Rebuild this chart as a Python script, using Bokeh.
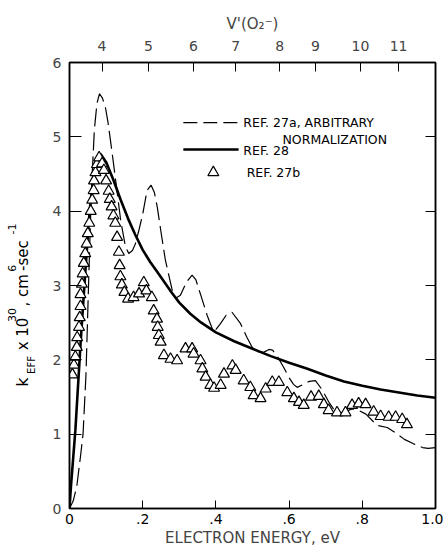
import math
from bokeh.plotting import figure
from bokeh.layouts import row
from bokeh.models import LinearAxis, FixedTicker, Range1d
from bokeh.core.properties import value
from bokeh.embed import file_html
from bokeh.resources import INLINE

# ---------------- data ----------------
# REF. 27a (dashed, arbitrary normalization)
ref27a_energy = [0.0, 0.01, 0.02, 0.03, 0.037, 0.045, 0.052, 0.06, 0.068, 0.075, 0.082,
                 0.09, 0.098, 0.105, 0.112, 0.12, 0.127, 0.14, 0.153, 0.162, 0.172, 0.18,
                 0.19, 0.20, 0.212, 0.223, 0.232, 0.24, 0.25, 0.262, 0.281, 0.29, 0.303,
                 0.32, 0.335, 0.345, 0.36, 0.376, 0.394, 0.413, 0.428, 0.444, 0.467, 0.485,
                 0.499, 0.515, 0.53, 0.545, 0.555, 0.57, 0.585, 0.60, 0.612, 0.622, 0.64,
                 0.655, 0.672, 0.69, 0.71, 0.731, 0.75, 0.773, 0.79, 0.81, 0.84, 0.868,
                 0.89, 0.915, 0.94, 0.965, 0.98, 1.0]
ref27a_k = [0.0, 0.1, 0.3, 0.7, 1.0, 1.8, 3.0, 4.3, 5.1, 5.45, 5.58,
            5.52, 5.4, 5.2, 4.95, 4.65, 4.38, 3.87, 3.52, 3.43, 3.47, 3.56,
            3.75, 3.96, 4.28, 4.35, 4.25, 4.05, 3.72, 3.34, 2.93, 2.83, 2.87,
            3.05, 3.14, 3.08, 2.85, 2.6, 2.37, 2.49, 2.6, 2.64, 2.49, 2.3,
            2.17, 2.11, 2.10, 2.14, 2.13, 2.03, 1.9, 1.76, 1.67, 1.63, 1.67,
            1.71, 1.72, 1.6, 1.42, 1.27, 1.30, 1.34, 1.32, 1.27, 1.12, 1.09,
            1.02, 0.93, 0.87, 0.82, 0.81, 0.82]

# REF. 28 (solid)
ref28_energy = [0.0, 0.004, 0.016, 0.03, 0.042, 0.055, 0.065, 0.075, 0.085, 0.10,
                0.12, 0.14, 0.16, 0.18, 0.20, 0.22, 0.24, 0.26, 0.28, 0.30, 0.33,
                0.36, 0.40, 0.45, 0.50, 0.55, 0.60, 0.65, 0.70, 0.75, 0.80, 0.85,
                0.90, 0.95, 1.0]
ref28_k = [0.0, 0.3, 1.05, 2.2, 3.1, 4.0, 4.45, 4.68, 4.77, 4.66,
           4.42, 4.15, 3.90, 3.68, 3.48, 3.32, 3.18, 3.04, 2.90, 2.77, 2.62,
           2.50, 2.37, 2.25, 2.15, 2.05, 1.96, 1.88, 1.79, 1.71, 1.65, 1.60,
           1.56, 1.52, 1.49]

# REF. 27b (triangles)
ref27b_energy = [0.008, 0.012, 0.016, 0.020, 0.021, 0.026, 0.028, 0.030, 0.030, 0.034,
                 0.036, 0.039, 0.043, 0.047, 0.050, 0.054, 0.058, 0.062, 0.066, 0.067,
                 0.071, 0.075, 0.081, 0.089, 0.094, 0.100, 0.107, 0.110, 0.115, 0.120,
                 0.125, 0.130, 0.135, 0.137, 0.139, 0.143, 0.150, 0.160, 0.175, 0.190,
                 0.203, 0.210, 0.225, 0.230, 0.239, 0.241, 0.244, 0.249, 0.258, 0.276,
                 0.294, 0.317, 0.335, 0.339, 0.358, 0.363, 0.372, 0.385, 0.395, 0.413,
                 0.422, 0.445, 0.454, 0.476, 0.494, 0.503, 0.522, 0.536, 0.554, 0.572,
                 0.595, 0.613, 0.627, 0.640, 0.660, 0.681, 0.695, 0.708, 0.731, 0.754,
                 0.772, 0.790, 0.809, 0.831, 0.850, 0.872, 0.891, 0.909, 0.922]
ref27b_k = [1.80, 1.93, 2.04, 2.17, 2.30, 2.44, 2.57, 2.72, 2.88, 3.02,
            3.16, 3.30, 3.43, 3.56, 3.70, 3.84, 4.00, 4.15, 4.28, 4.41,
            4.52, 4.63, 4.72, 4.64, 4.55, 4.41, 4.27, 4.16, 4.06, 3.94,
            3.84, 3.65, 3.45, 3.27, 3.12, 3.01, 2.91, 2.82, 2.84, 2.89,
            3.04, 2.93, 2.84, 2.66, 2.55, 2.44, 2.33, 2.24, 2.06, 2.01,
            1.99, 2.15, 2.15, 2.08, 1.99, 1.88, 1.77, 1.66, 1.62, 1.66,
            1.81, 1.92, 1.86, 1.72, 1.63, 1.52, 1.48, 1.61, 1.70, 1.70,
            1.56, 1.48, 1.43, 1.39, 1.50, 1.51, 1.40, 1.32, 1.29, 1.29,
            1.39, 1.41, 1.40, 1.30, 1.24, 1.23, 1.23, 1.20, 1.13]

# top axis: vibrational level V'(O2-) and its electron energy position
v_levels = [4, 5, 6, 7, 8, 9, 10, 11]
v_energy = [0.089, 0.216, 0.339, 0.454, 0.574, 0.672, 0.795, 0.899]

x_ticks = [0.0, 0.2, 0.4, 0.6, 0.8, 1.0]
x_tick_labels = ["0", ".2", ".4", ".6", ".8", "1.0"]
y_ticks = [0, 1, 2, 3, 4, 5, 6]

FONT = "DejaVu Sans"
W, H = 443, 550
TITLE_W = 44          # width of the strip that carries the rotated y title

# ---------------- main figure ----------------
p = figure(width=W - TITLE_W, height=H, output_backend="svg", toolbar_location=None,
           x_range=Range1d(0, 1), y_range=Range1d(0, 6),
           min_border_left=69 - TITLE_W, min_border_right=8,
           min_border_top=62, min_border_bottom=42)
p.xgrid.visible = False
p.ygrid.visible = False
p.outline_line_color = "black"
p.outline_line_width = 1.5

# bottom axis
xa = p.xaxis[0]
xa.ticker = FixedTicker(ticks=x_ticks)
xa.major_label_overrides = {t: l for t, l in zip(x_ticks, x_tick_labels)}
xa.minor_tick_line_color = None
xa.major_tick_in = 8
xa.major_tick_out = 0
xa.axis_line_width = 1.5
xa.major_label_standoff = 5
xa.major_label_text_font = FONT
xa.major_label_text_font_size = "14px"
xa.major_label_text_color = "black"
xa.axis_label = "ELECTRON ENERGY, eV"
xa.axis_label_text_font = FONT
xa.axis_label_text_font_size = "15px"
xa.axis_label_text_font_style = "normal"
xa.axis_label_standoff = 2

# left axis
ya = p.yaxis[0]
ya.ticker = FixedTicker(ticks=y_ticks)
ya.minor_tick_line_color = None
ya.major_tick_in = 12
ya.major_tick_out = 0
ya.axis_line_width = 1.5
ya.major_label_standoff = 8
ya.major_label_text_font = FONT
ya.major_label_text_font_size = "14px"
ya.major_label_orientation = "horizontal"

# top axis (V' levels)
top = LinearAxis(ticker=FixedTicker(ticks=v_energy),
                 major_label_overrides={e: str(v) for e, v in zip(v_energy, v_levels)},
                 axis_label="V'(O\u2082\u207b)")
top.minor_tick_line_color = None
top.major_tick_in = 9
top.major_tick_out = 0
top.axis_line_width = 1.5
top.major_label_standoff = 12
top.major_label_text_font = FONT
top.major_label_text_font_size = "14px"
top.axis_label_text_font = FONT
top.axis_label_text_font_size = "15px"
top.axis_label_text_font_style = "normal"
top.axis_label_standoff = 5
p.add_layout(top, "above")

# right axis (ticks only)
right = LinearAxis(ticker=FixedTicker(ticks=[1, 2, 3, 4, 5]),
                   major_label_overrides={t: "" for t in [1, 2, 3, 4, 5]})
right.minor_tick_line_color = None
right.major_tick_in = 10
right.major_tick_out = 0
right.axis_line_width = 1.5
right.major_label_standoff = 0
p.add_layout(right, "right")

# ---------------- data glyphs ----------------
p.line(ref27a_energy, ref27a_k, line_color="black", line_width=1.2, line_dash="18 6")
p.line(ref28_energy, ref28_k, line_color="black", line_width=2.6)
p.scatter(ref27b_energy, ref27b_k, marker="triangle", size=11,
          fill_color="white", line_color="black", line_width=1.2)

# ---------------- legend (manual) ----------------
LEG_TXT = dict(text_font=value(FONT), text_font_size="12.5px",
               text_baseline="middle", text_align="left", text_color="black")
p.segment(x0=[0.311], y0=[5.19], x1=[0.459], y1=[5.19],
          line_color="black", line_width=1.2, line_dash="14 6")
p.text(x=[0.475], y=[5.19], text=["REF. 27a, ARBITRARY"], **LEG_TXT)
p.text(x=[0.582], y=[4.96], text=["NORMALIZATION"], **LEG_TXT)
p.segment(x0=[0.311], y0=[4.83], x1=[0.462], y1=[4.83],
          line_color="black", line_width=2.6)
p.text(x=[0.475], y=[4.82], text=["REF. 28"], **LEG_TXT)
p.scatter(x=[0.393], y=[4.52], marker="triangle", size=11,
          fill_color="white", line_color="black", line_width=1.2)
p.text(x=[0.484], y=[4.52], text=["REF. 27b"], **LEG_TXT)

# ---------------- y title strip (rotated text with sub/superscripts) ----------------
t = figure(width=TITLE_W, height=H, output_backend="svg", toolbar_location=None,
           x_range=Range1d(0, TITLE_W), y_range=Range1d(0, H),
           x_axis_type=None, y_axis_type=None,
           min_border_left=0, min_border_right=0, min_border_top=0, min_border_bottom=0)
t.xgrid.visible = False
t.ygrid.visible = False
t.outline_line_color = None

ANG = math.pi / 2
# (text, canvas x px, canvas y px from top where the piece starts, font size)
title_pieces = [
    ("k", 22, 400, "16px"),
    ("EFF", 31, 384, "10px"),
    ("x 10", 22, 355, "15px"),
    ("30", 11, 320, "11px"),
    (", cm", 22, 301, "15px"),
    ("6", 11, 258, "11px"),
    ("-sec", 22, 257, "15px"),
    ("-1", 11, 212, "11px"),
]
for txt, cx, cy, fs in title_pieces:
    t.text(x=[cx], y=[H - cy], text=[txt], angle=ANG,
           text_font=value(FONT), text_font_size=fs,
           text_align="left", text_baseline="middle", text_color="black")

layout = row(t, p, spacing=0)
open("out.html", "w").write(file_html(layout, INLINE))
